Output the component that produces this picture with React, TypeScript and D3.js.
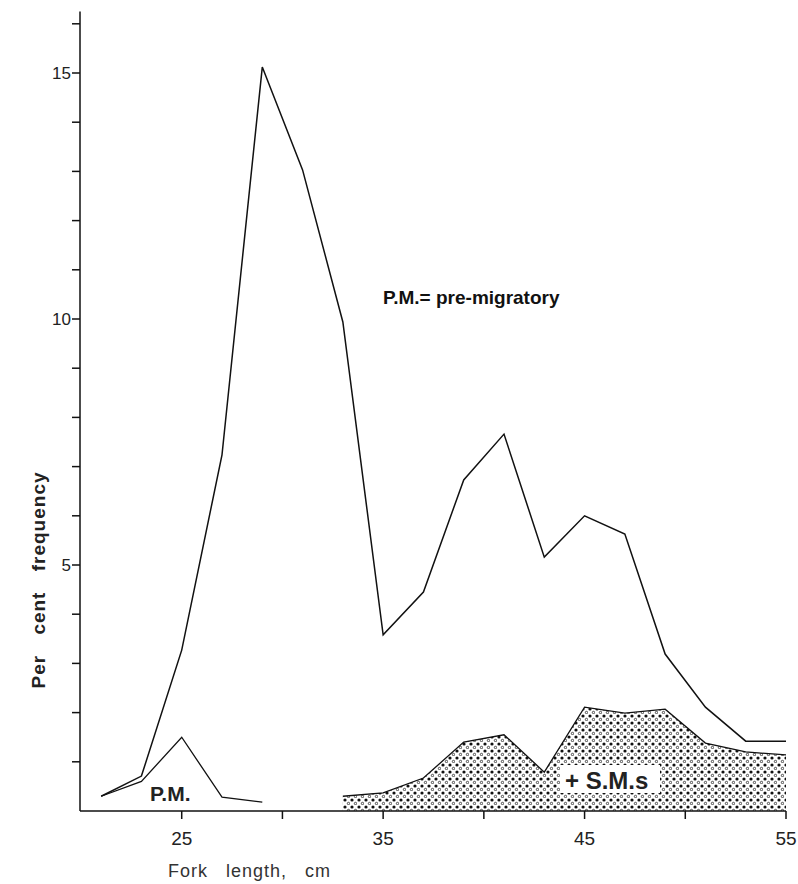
import React, { useEffect, useRef } from "react";
import * as d3 from "d3";

// fork length (cm), mid points of 2 cm classes
const lengths = [21, 23, 25, 27, 29, 31, 33, 35, 37, 39, 41, 43, 45, 47, 49, 51, 53, 55];
// P.M. + S.M.s combined
const totalPct = [0.3, 0.71, 3.27, 7.24, 15.12, 13.03, 9.94, 3.58, 4.45, 6.73, 7.66, 5.16, 6.0, 5.63, 3.19, 2.11, 1.42, 1.42];
// pre-migratory only
const pmLengths = [21, 23, 25, 27, 29];
const pmPct = [0.3, 0.6, 1.5, 0.28, 0.18];
// S.M.s (shaded)
const smLengths = [33, 35, 37, 39, 41, 43, 45, 47, 49, 51, 53, 55];
const smPct = [0.3, 0.37, 0.67, 1.4, 1.55, 0.79, 2.11, 1.99, 2.07, 1.38, 1.2, 1.14];

const xTickLabels = [25, 35, 45, 55];
const xMinorTicks = [30, 40, 50];
const yTickLabels = [5, 10, 15];
const yMinorTicks = [1, 2, 3, 4, 6, 7, 8, 9, 11, 12, 13, 14, 16];

const W = 798;
const H = 884;

export default function App() {
  const ref = useRef<SVGSVGElement>(null);

  useEffect(() => {
    const svg = d3.select(ref.current);
    svg.selectAll("*").remove();

    const x = d3.scaleLinear().domain([20, 55]).range([81, 786]);
    const y = d3.scaleLinear().domain([0, 15]).range([811, 73]);
    const font = "'Liberation Sans', Arial, sans-serif";

    // dotted fill for S.M.s
    const defs = svg.append("defs");
    const pat = defs
      .append("pattern")
      .attr("id", "dots")
      .attr("patternUnits", "userSpaceOnUse")
      .attr("width", 7)
      .attr("height", 7);
    pat.append("circle").attr("cx", 2).attr("cy", 2).attr("r", 1.6).attr("fill", "#111");
    pat
      .append("circle")
      .attr("cx", 5.5)
      .attr("cy", 5.5)
      .attr("r", 1.2)
      .attr("fill", "none")
      .attr("stroke", "#333")
      .attr("stroke-width", 0.9);

    const smData = smLengths.map((d, i) => [d, smPct[i]] as [number, number]);
    const area = d3
      .area<[number, number]>()
      .x(d => x(d[0]))
      .y0(y(0))
      .y1(d => y(d[1]));
    svg.append("path").datum(smData).attr("d", area).attr("fill", "url(#dots)");

    const line = d3
      .line<[number, number]>()
      .x(d => x(d[0]))
      .y(d => y(d[1]));

    svg
      .append("path")
      .datum(smData)
      .attr("d", line)
      .attr("fill", "none")
      .attr("stroke", "#111")
      .attr("stroke-width", 1.3);

    svg
      .append("path")
      .datum(lengths.map((d, i) => [d, totalPct[i]] as [number, number]))
      .attr("d", line)
      .attr("fill", "none")
      .attr("stroke", "#111")
      .attr("stroke-width", 1.5);

    svg
      .append("path")
      .datum(pmLengths.map((d, i) => [d, pmPct[i]] as [number, number]))
      .attr("d", line)
      .attr("fill", "none")
      .attr("stroke", "#111")
      .attr("stroke-width", 1.3);

    // axes
    const ax = svg.append("g").attr("stroke", "#111").attr("stroke-width", 1.5);
    ax.append("line").attr("x1", x(20) - 1).attr("x2", x(20) - 1).attr("y1", y(0)).attr("y2", y(16.25));
    ax.append("line").attr("x1", x(20) - 1).attr("x2", x(55)).attr("y1", y(0)).attr("y2", y(0));

    ax.selectAll(".yt")
      .data(yTickLabels.concat(yMinorTicks))
      .enter()
      .append("line")
      .attr("x1", x(20) - 9)
      .attr("x2", x(20) - 1)
      .attr("y1", d => y(d))
      .attr("y2", d => y(d));

    ax.selectAll(".xt")
      .data(xTickLabels.concat(xMinorTicks))
      .enter()
      .append("line")
      .attr("x1", d => x(d))
      .attr("x2", d => x(d))
      .attr("y1", y(0))
      .attr("y2", y(0) + 8);

    svg
      .selectAll(".ylab")
      .data(yTickLabels)
      .enter()
      .append("text")
      .attr("x", x(20) - 10)
      .attr("y", d => y(d))
      .attr("dy", "0.35em")
      .attr("text-anchor", "end")
      .attr("font-family", font)
      .attr("font-size", 17)
      .attr("fill", "#222")
      .text(d => d);

    svg
      .selectAll(".xlab")
      .data(xTickLabels)
      .enter()
      .append("text")
      .attr("x", d => Math.min(x(d), W - 12))
      .attr("y", 845)
      .attr("text-anchor", "middle")
      .attr("font-family", font)
      .attr("font-size", 19)
      .attr("fill", "#222")
      .text(d => d);

    svg
      .append("text")
      .attr("x", 168)
      .attr("y", 877)
      .attr("font-family", font)
      .attr("font-size", 18)
      .attr("letter-spacing", 1)
      .attr("word-spacing", 12)
      .attr("fill", "#333")
      .text("Fork length, cm");

    svg
      .append("text")
      .attr("transform", "translate(45,580) rotate(-90)")
      .attr("text-anchor", "middle")
      .attr("font-family", font)
      .attr("font-size", 19)
      .attr("font-weight", "bold")
      .attr("letter-spacing", 1)
      .attr("word-spacing", 14)
      .attr("fill", "#222")
      .text("Per cent frequency");

    svg
      .append("text")
      .attr("x", 383)
      .attr("y", 304)
      .attr("font-family", font)
      .attr("font-size", 19)
      .attr("font-weight", "bold")
      .attr("fill", "#111")
      .text("P.M.= pre-migratory");

    svg
      .append("text")
      .attr("x", 150)
      .attr("y", 801)
      .attr("font-family", font)
      .attr("font-size", 21)
      .attr("font-weight", "bold")
      .attr("fill", "#222")
      .text("P.M.");

    svg.append("rect").attr("x", 560).attr("y", 765).attr("width", 100).attr("height", 28).attr("fill", "#fff");
    svg
      .append("text")
      .attr("x", 565)
      .attr("y", 789)
      .attr("font-family", font)
      .attr("font-size", 24)
      .attr("font-weight", "bold")
      .attr("fill", "#222")
      .text("+ S.M.s");
  }, []);

  return (
    <svg
      ref={ref}
      width={W}
      height={H}
      style={{ position: "absolute", left: 0, top: 0, background: "#fff" }}
    />
  );
}
